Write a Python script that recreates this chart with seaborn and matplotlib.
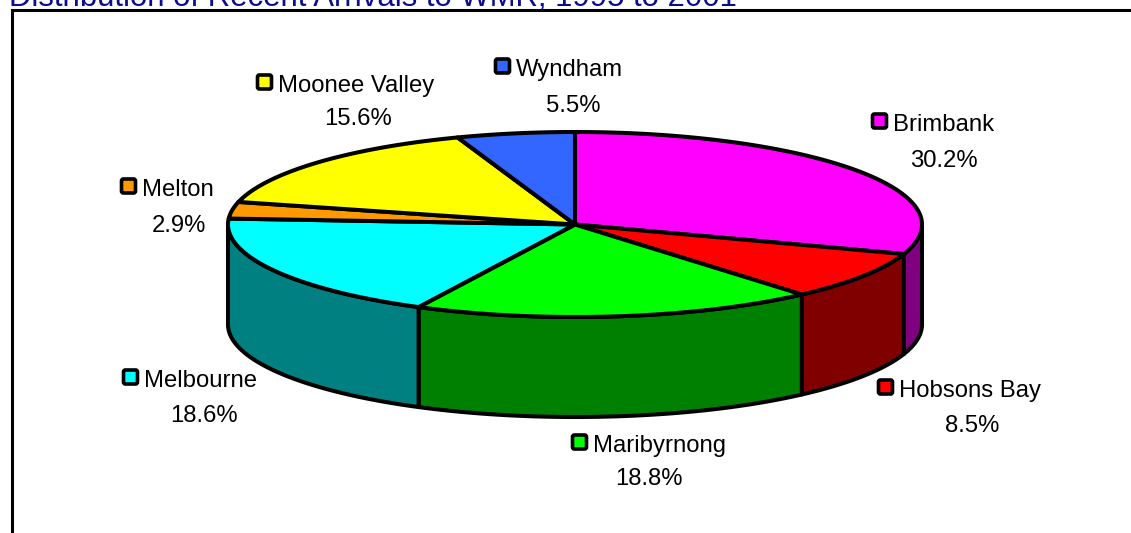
import numpy as np
import matplotlib
matplotlib.use("Agg")
import matplotlib.pyplot as plt
from matplotlib.patches import Polygon, FancyBboxPatch
import seaborn as sns

suburbs = ["Brimbank", "Hobsons Bay", "Maribyrnong", "Melbourne", "Melton", "Moonee Valley", "Wyndham"]
shares = [30.2, 8.5, 18.8, 18.6, 2.9, 15.6, 5.5]
top_colors = ["#ff00ff", "#ff0000", "#00ff00", "#00ffff", "#ff9900", "#ffff00", "#3366ff"]
side_colors = ["#800080", "#800000", "#008000", "#008080", "#804d00", "#808000", "#1a3380"]
title = "Distribution of Recent Arrivals to WMR, 1995 to 2001"

# label anchors in pixels: swatch left/centre y, then centre of the percent line
label_pos = [(872, 123, 944, 159), (878, 389, 972, 424), (572, 444, 649, 477), (123, 379, 204, 414),
             (121, 188, 179, 224), (257, 84, 358, 117), (495, 68, 573, 104)]

W, H = 1131, 533
cx, cy, rx, ry, depth = 575, 224.5, 347, 92.5, 100
LW = 2.9

sns.set_theme(style="white")
plt.rcParams["font.family"] = ["Liberation Sans", "DejaVu Sans"]

fig = plt.figure(figsize=(W / 100, H / 100), dpi=100)
ax = fig.add_axes([0, 0, 1, 1])
ax.set_xlim(0, W)
ax.set_ylim(H, 0)
ax.axis("off")


def rim(a0, a1, dy=0.0):
    t = np.radians(np.linspace(a0, a1, max(2, int(abs(a1 - a0) * 2))))
    return np.column_stack([cx + rx * np.sin(t), cy + dy - ry * np.cos(t)])


edges = np.concatenate([[0], np.cumsum(shares)]) * 360 / sum(shares)

# frame runs off the right and bottom of the picture
ax.plot([W + 5, 11.8, 11.8], [9.7, 9.7, H + 5], color="black", lw=2.2, solid_joinstyle="miter", zorder=1)
ax.text(9, 6, title, color="#0c0c90", fontsize=22.4, ha="left", va="baseline", clip_on=True)

# sides: only the front half of the rim is visible
for a0, a1, col in zip(edges[:-1], edges[1:], side_colors):
    lo, hi = max(a0, 90), min(a1, 270)
    if lo >= hi:
        continue
    front = rim(lo, hi)
    back = rim(hi, lo, depth)
    ax.add_patch(Polygon(np.vstack([front, back]), closed=True, fc=col, ec="black", lw=LW, joinstyle="round", zorder=2))

# top face
for a0, a1, col in zip(edges[:-1], edges[1:], top_colors):
    pts = np.vstack([[cx, cy], rim(a0, a1)])
    ax.add_patch(Polygon(pts, closed=True, fc=col, ec="black", lw=LW, joinstyle="round", zorder=3))

for name, share, col, (sx, sy, px, py) in zip(suburbs, shares, top_colors, label_pos):
    ax.add_patch(FancyBboxPatch((sx + 1.5, sy - 8), 12, 12, boxstyle="round,pad=1,rounding_size=2",
                                fc=col, ec="black", lw=2.6, zorder=4))
    ax.text(sx + 21, sy + 2, name, fontsize=17.2, color="black", ha="left", va="center", zorder=4)
    ax.text(px, py + 2, f"{share:.1f}%", fontsize=17.2, color="black", ha="center", va="center", zorder=4)

fig.savefig("out.png", dpi=100)
